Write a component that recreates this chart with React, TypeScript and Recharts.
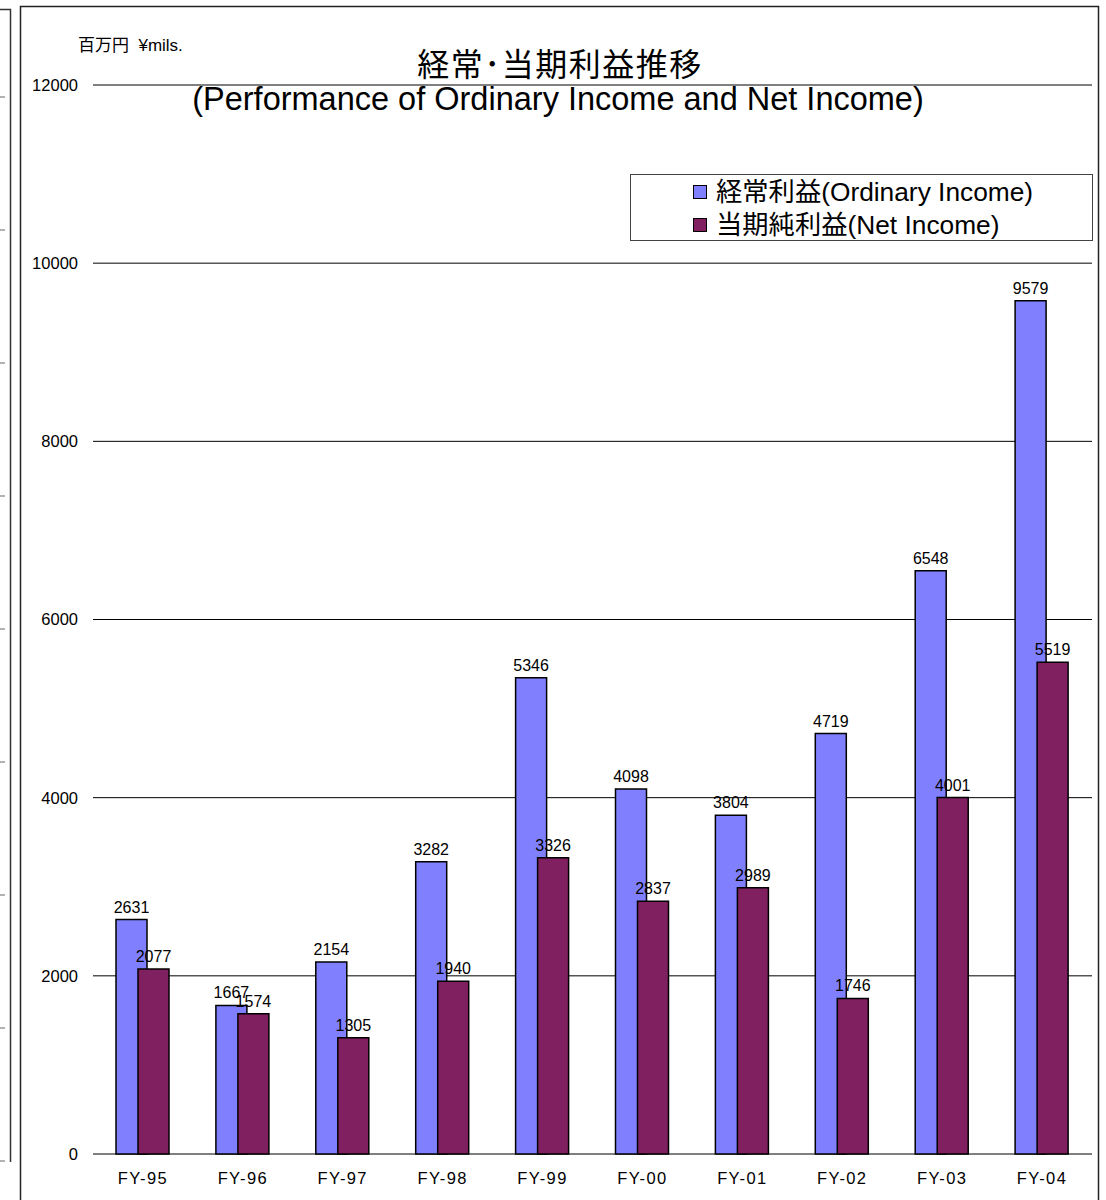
import { BarChart, Bar, XAxis, YAxis, CartesianGrid, LabelList } from "recharts";

const categories = ["FY-95", "FY-96", "FY-97", "FY-98", "FY-99", "FY-00", "FY-01", "FY-02", "FY-03", "FY-04"];
const ordinaryIncome = [2631, 1667, 2154, 3282, 5346, 4098, 3804, 4719, 6548, 9579];
const netIncome = [2077, 1574, 1305, 1940, 3326, 2837, 2989, 1746, 4001, 5519];
const yTicks = [0, 2000, 4000, 6000, 8000, 10000, 12000];
const categoryBoundaries = [0, 1, 2, 3, 4, 5, 6, 7, 8, 9, 10];

const seriesNames = ["経常利益(Ordinary Income)", "当期純利益(Net Income)"];
const seriesColors = ["#8080FF", "#802060"];
const titleLines = ["経常･当期利益推移", "(Performance of Ordinary Income and Net Income)"];
const unitLabel = "百万円  ¥mils.";

const FONT = '"Liberation Sans", Arial, "Noto Sans CJK JP", sans-serif';

const data = categories.map((c, i) => ({
  name: c,
  ordinary: ordinaryIncome[i],
  net: netIncome[i],
}));

// decorative frame of the neighbouring sheet on the far left
const leftTicks = [97, 230, 363, 496, 629, 762, 895, 1028, 1161];

export default function App() {
  return (
    <div style={{ position: "absolute", left: 0, top: 0, width: 1106, height: 1200, background: "#fff", overflow: "hidden", fontFamily: FONT }}>
      <div style={{ position: "absolute", left: 20, top: 6 }}>
        <BarChart
          width={1079}
          height={1194}
          data={data}
          margin={{ top: 79, right: 7, left: 0, bottom: 0 }}
          barSize={31}
          barGap={-9}
          style={{ fontFamily: FONT }}
        >
          <CartesianGrid vertical={false} stroke="#000" strokeWidth={1} />
          <XAxis
            xAxisId="ticks"
            type="number"
            domain={[0, 10]}
            ticks={categoryBoundaries}
            height={0}
            tick={false}
            tickSize={-5}
            axisLine={{ stroke: "#000", strokeWidth: 1.5 }}
            tickLine={{ stroke: "#000" }}
          />
          <XAxis
            dataKey="name"
            height={46}
            axisLine={false}
            tickLine={false}
            tickSize={6}
            tickMargin={12}
            tick={{ fill: "#000", fontSize: 16.5, letterSpacing: 1.4 }}
          />
          <YAxis
            width={73}
            domain={[0, 12000]}
            ticks={yTicks}
            axisLine={false}
            tickLine={false}
            tickMargin={9}
            tick={{ fill: "#000", fontSize: 16.5 }}
          />
          <Bar dataKey="ordinary" name={seriesNames[0]} fill={seriesColors[0]} stroke="#000" strokeWidth={1.5} isAnimationActive={false}>
            <LabelList dataKey="ordinary" position="top" offset={7} fill="#000" fontSize={16} />
          </Bar>
          <Bar dataKey="net" name={seriesNames[1]} fill={seriesColors[1]} stroke="#000" strokeWidth={1.5} isAnimationActive={false}>
            <LabelList dataKey="net" position="top" offset={7} fill="#000" fontSize={16} />
          </Bar>
        </BarChart>
      </div>
      <svg width={1106} height={1200} style={{ position: "absolute", left: 0, top: 0, pointerEvents: "none" }}>
        {/* left neighbour frame */}
        <path d="M0 9.5 H10.5 V1162" fill="none" stroke="#333" strokeWidth={1.5} />
        {leftTicks.map((y) => (
          <line key={y} x1={0} x2={5} y1={y} y2={y} stroke="#666" strokeWidth={1} />
        ))}
        {/* chart frame */}
        <rect x={20.5} y={6.5} width={1078} height={1210} fill="none" stroke="#222" strokeWidth={1.5} />
        <text x={78} y={51} fontSize={17} fill="#000" fontFamily={FONT} style={{ whiteSpace: "pre" }}>
          {unitLabel}
        </text>
        <text x={560} y={76} fontSize={32} letterSpacing={1.5} textAnchor="middle" fill="#000" fontFamily={FONT}>
          {titleLines[0]}
        </text>
        <text x={558} y={110} fontSize={32.5} textAnchor="middle" fill="#000" fontFamily={FONT}>
          {titleLines[1]}
        </text>
        {/* legend */}
        <rect x={630.5} y={174.5} width={462} height={66} fill="#fff" stroke="#444" strokeWidth={1} />
        {seriesNames.map((n, i) => (
          <g key={n}>
            <rect x={693.5} y={185.5 + i * 33} width={13} height={13} fill={seriesColors[i]} stroke="#000" strokeWidth={1} />
            <text x={716} y={201 + i * 33} fontSize={26.3} fill="#000" fontFamily={FONT}>
              {n}
            </text>
          </g>
        ))}
      </svg>
    </div>
  );
}
